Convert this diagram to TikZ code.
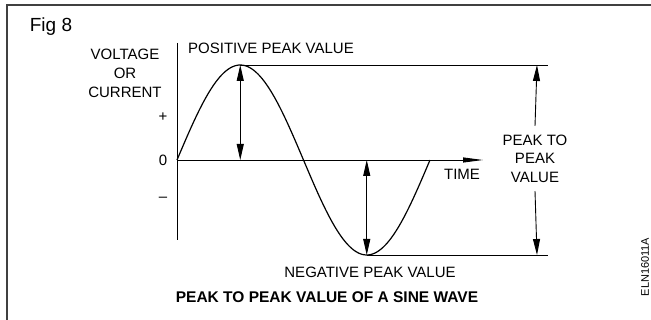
\documentclass[tikz,border=0pt]{standalone}
\usepackage{fontspec}
\setmainfont{Liberation Sans}
\usetikzlibrary{arrows.meta,positioning}

\begin{document}
\begin{tikzpicture}[
  x=1pt, y=-1pt,
  every node/.style={font=\fontsize{15}{18.5}\selectfont,inner sep=0pt},
  lbl/.style={align=center},
  ln/.style={line width=0.9pt},
  tip/.style={-{Triangle[length=16pt,width=7pt]},line width=0.9pt},
  dtip/.style={{Triangle[length=16pt,width=7pt]}-{Triangle[length=16pt,width=7pt]},line width=0.9pt},
  wave/.style={line width=1.2pt}
]
\useasboundingbox (0,0) rectangle (651,320);
\draw[line width=1.6pt,black!75] (7,320) -- (7,5) -- (651,5);

\coordinate (o) at (177,160);
\coordinate (ytop) at (177,43);
\coordinate (ybot) at (177,240);
\coordinate (tend) at (483,160);
\coordinate (pk) at (240.25,65);
\coordinate (pk0) at (240.25,160);
\coordinate (tr) at (366.75,255);
\coordinate (tr0) at (366.75,160);
\coordinate (ptop) at (548,65);
\coordinate (pbot) at (548,255);
\coordinate (atop) at (537,65);
\coordinate (abot) at (537,255);

\node (fig) at (51,27) {\fontsize{19}{23}\selectfont Fig 8};
\node[lbl,font=\fontsize{15}{19}\selectfont] (vlab) at (125,73) {VOLTAGE\\OR\\CURRENT};
\node (plus) at (163,117) {+};
\node (zero) at (163,160) {0};
\node (minus) at (163,199) {--};
\node (pospk) at (271,48) {POSITIVE PEAK VALUE};
\node (negpk) at (370,272) {NEGATIVE PEAK VALUE};
\node (time) at (462,174) {TIME};
\node[lbl,inner ysep=8.5pt] (ptp) at (535,158.5) {PEAK TO\\PEAK\\VALUE};
\node (caption) at (327,297) {\fontsize{15.5}{18.5}\selectfont\bfseries PEAK TO PEAK VALUE OF A SINE WAVE};
\node[rotate=90] (code) at (645,267) {\fontsize{11}{13}\selectfont ELN16011A};

\draw[ln] (ytop) -- (ybot);
\draw[-{Triangle[length=20pt,width=5pt]},line width=0.9pt] (o) -- (tend);
\draw[wave] plot[domain=177:430,samples=120,smooth] (\x,{160-95*sin((\x-177)/253*360)});
\draw[ln] (pk) -- (ptop);
\draw[ln] (tr) -- (pbot);
\draw[dtip] (pk0) -- (pk);
\draw[dtip] (tr0) -- (tr);
\draw[tip] (ptp.north) -- (atop);
\draw[tip] (ptp.south) -- (abot);
\end{tikzpicture}
\end{document}
